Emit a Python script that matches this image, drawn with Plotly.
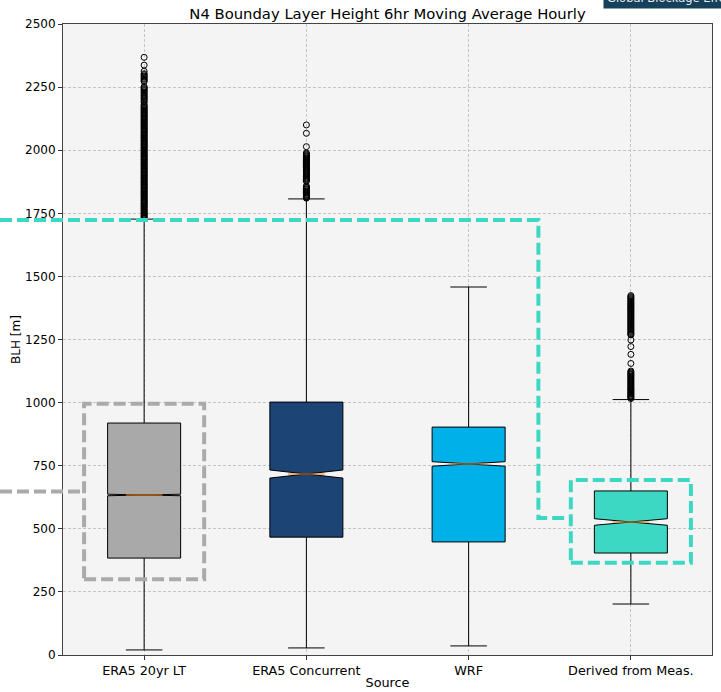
import plotly.graph_objects as go

# ---------------- data ----------------
categories = ["ERA5 20yr LT", "ERA5 Concurrent", "WRF", "Derived from Meas."]
q1 = [384, 467, 448, 404]
medians = [634, 717, 757, 527]
q3 = [919, 1002, 903, 650]
lower_whisker = [20, 28, 36, 202]
upper_whisker = [1727, 1807, 1458, 1012]
notch_half = [3, 16, 9, 13]
box_colors = ["#a9a9a9", "#1c4475", "#00b0e8", "#3dd8c4"]

outliers_era5_lt = [2368, 2337, 2313, 2303, 2299, 2294, 2290, 2285, 2281, 2276, 2272,
                    2252, 2248, 2244, 2240, 2236, 2231, 2227, 2222, 2217, 2213, 2208,
                    2204, 2199, 2194, 2189, 2180, 2176, 2172, 2169, 2165, 2161, 2158,
                    2154, 2150, 2147, 2143, 2139, 2135, 2132, 2128, 2124, 2121, 2117,
                    2113, 2110, 2106, 2102, 2098, 2095, 2091, 2087, 2084, 2080, 2076,
                    2073, 2069, 2065, 2061, 2058, 2054, 2050, 2047, 2043, 2039, 2036,
                    2032, 2028, 2024, 2021, 2017, 2013, 2010, 2006, 2002, 1999, 1995,
                    1991, 1987, 1984, 1980, 1976, 1973, 1969, 1965, 1962, 1958, 1954,
                    1950, 1947, 1943, 1939, 1936, 1932, 1928, 1925, 1921, 1917, 1913,
                    1910, 1906, 1902, 1899, 1895, 1891, 1888, 1884, 1880, 1876, 1873,
                    1869, 1865, 1862, 1858, 1854, 1851, 1847, 1843, 1839, 1836, 1832,
                    1828, 1825, 1821, 1817, 1814, 1810, 1806, 1802, 1799, 1795, 1791,
                    1788, 1784, 1780, 1777, 1773, 1769, 1765, 1762, 1758, 1754, 1751,
                    1747, 1743, 1740, 1736, 1732, 1729]
outliers_era5_conc = [2100, 2067, 2014, 1989, 1985, 1981, 1977, 1974, 1970, 1966, 1962,
                      1959, 1955, 1951, 1947, 1944, 1940, 1936, 1932, 1929, 1925, 1921,
                      1917, 1914, 1910, 1906, 1902, 1899, 1895, 1891, 1887, 1884, 1880,
                      1877, 1858, 1854, 1851, 1847, 1844, 1840, 1836, 1832, 1829, 1825,
                      1822, 1818, 1815, 1812, 1810]
outliers_wrf = []
outliers_derived = [1424, 1420, 1416, 1412, 1408, 1404, 1400, 1396, 1392, 1389, 1385,
                    1381, 1377, 1373, 1370, 1366, 1362, 1358, 1354, 1350, 1346, 1342,
                    1338, 1334, 1330, 1326, 1322, 1318, 1314, 1310, 1306, 1302, 1298,
                    1294, 1290, 1286, 1282, 1278, 1274, 1271, 1268, 1248, 1222, 1191,
                    1155, 1125, 1121, 1117, 1113, 1110, 1106, 1102, 1098, 1094, 1090,
                    1086, 1082, 1078, 1074, 1070, 1066, 1062, 1058, 1055, 1051, 1048,
                    1044, 1040, 1036, 1033, 1029, 1026, 1023, 1020, 1016]
outliers = [outliers_era5_lt, outliers_era5_conc, outliers_wrf, outliers_derived]

yticks = [0, 250, 500, 750, 1000, 1250, 1500, 1750, 2000, 2250, 2500]

# highlight regions (values in data units)
gray_box_range = [300, 995]
gray_level = 648
teal_box_range = [365, 693]
teal_high_level = 1723
teal_low_level = 543

# ---------------- layout constants ----------------
W, H = 721, 692
ML, MR, MT, MB = 63, 9, 24, 37
PW = W - ML - MR
PH = H - MT - MB
XMIN, XMAX = -0.5, 3.5
BOX_W = 0.45
HALF = 0.37


def xpaper(v):
    return (v - XMIN) / (XMAX - XMIN)


LEFT_EDGE = -ML / PW

fig = go.Figure()

for i, cat in enumerate(categories):
    fig.add_trace(go.Box(
        x=[i], q1=[q1[i]], median=[medians[i]], q3=[q3[i]],
        lowerfence=[lower_whisker[i]], upperfence=[upper_whisker[i]],
        notchspan=[notch_half[i]], notched=True, notchwidth=0.5,
        width=BOX_W, whiskerwidth=0.5, boxpoints=False,
        fillcolor=box_colors[i], line=dict(color="black", width=1),
        hoverinfo="skip", name=cat,
    ))
    fig.add_trace(go.Scatter(
        x=[i - BOX_W / 4, i + BOX_W / 4], y=[medians[i], medians[i]],
        mode="lines", line=dict(color="#ff7f0e", width=1), hoverinfo="skip",
    ))
    if outliers[i]:
        fig.add_trace(go.Scatter(
            x=[i] * len(outliers[i]), y=outliers[i], mode="markers",
            marker=dict(symbol="circle-open", size=6, color="black",
                        line=dict(width=1, color="black")),
            hoverinfo="skip",
        ))

dash = "12px,5px"
gray = "#aaaaaa"
teal = "#3dd8c4"
shapes = [
    dict(type="rect", xref="paper", yref="y",
         x0=xpaper(0 - HALF), x1=xpaper(0 + HALF),
         y0=gray_box_range[0], y1=gray_box_range[1],
         line=dict(color=gray, width=4, dash=dash)),
    dict(type="line", xref="paper", yref="y",
         x0=LEFT_EDGE, x1=xpaper(0 - HALF), y0=gray_level, y1=gray_level,
         line=dict(color=gray, width=4, dash=dash)),
    dict(type="rect", xref="paper", yref="y",
         x0=xpaper(3 - HALF), x1=xpaper(3 + HALF),
         y0=teal_box_range[0], y1=teal_box_range[1],
         line=dict(color=teal, width=4, dash=dash)),
    dict(type="path", xref="paper", yref="y",
         path=(f"M {LEFT_EDGE},{teal_high_level} L {xpaper(2.43)},{teal_high_level} "
               f"L {xpaper(2.43)},{teal_low_level} L {xpaper(3 - HALF)},{teal_low_level}"),
         line=dict(color=teal, width=4, dash=dash)),
]

fig.update_layout(
    width=W, height=H,
    margin=dict(l=ML, r=MR, t=MT, b=MB, autoexpand=False),
    paper_bgcolor="white", plot_bgcolor="#f4f4f4",
    font=dict(family="DejaVu Sans", size=12, color="black"),
    showlegend=False,
    shapes=shapes,
    title=dict(text="N4 Bounday Layer Height 6hr Moving Average Hourly",
               x=0.5, xref="paper", xanchor="center",
               y=1 - 14 / H, yref="container", yanchor="middle",
               font=dict(size=14.8, color="black")),
    annotations=[dict(text="Global Blockage Effect", xref="paper", yref="paper",
                      x=(603 - ML) / PW, y=1 + (MT - 9) / PH,
                      xanchor="left", yanchor="bottom", showarrow=False,
                      bgcolor="#17405a", borderpad=3,
                      font=dict(size=11.5, color="#e8eef2"))],
)

fig.update_xaxes(
    range=[XMIN, XMAX], tickmode="array", tickvals=list(range(len(categories))),
    ticktext=categories, ticks="outside", ticklen=4, tickcolor="#333",
    tickfont=dict(size=12.8),
    showgrid=True, gridcolor="#c4c4c4", griddash="3px,2px", gridwidth=1,
    showline=True, mirror=True, linecolor="#444", linewidth=1, zeroline=False,
    automargin=False,
    title=dict(text="Source", standoff=0, font=dict(size=12.8)),
)
fig.update_yaxes(
    range=[0, 2500], tickmode="array", tickvals=yticks,
    ticks="outside", ticklen=4, tickcolor="#333",
    showgrid=True, gridcolor="#c4c4c4", griddash="3px,2px", gridwidth=1,
    showline=True, mirror=True, linecolor="#444", linewidth=1, zeroline=False,
    automargin=False,
    title=dict(text="BLH [m]", standoff=1, font=dict(size=12)),
)

fig.write_html("out.html", config={"displayModeBar": False},
               post_script="document.body.style.margin='0';document.body.style.overflow='hidden';")
